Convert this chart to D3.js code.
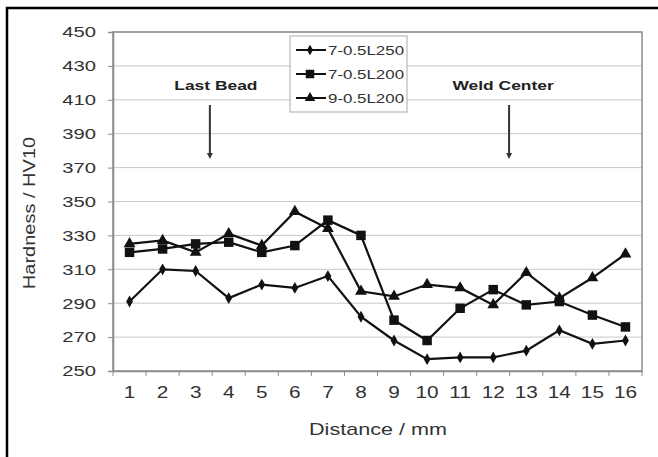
<!DOCTYPE html>
<html>
<head>
<meta charset="utf-8">
<script src="https://cdn.jsdelivr.net/npm/d3@7"></script>
<style>
  body { margin: 0; background: #fff; }
  svg { font-family: "Liberation Sans", Arial, sans-serif; }
</style>
</head>
<body>
<svg id="chart" width="658" height="457"></svg>
<script>
// data
var distances = [1, 2, 3, 4, 5, 6, 7, 8, 9, 10, 11, 12, 13, 14, 15, 16];
var seriesNames = ["7-0.5L250", "7-0.5L200", "9-0.5L200"];
var s250 = [291, 310, 309, 293, 301, 299, 306, 282, 268, 257, 258, 258, 262, 274, 266, 268];
var s200 = [320, 322, 325, 326, 320, 324, 339, 330, 280, 268, 287, 298, 289, 291, 283, 276];
var s9200 = [325, 327, 320, 331, 324, 344, 334, 297, 294, 301, 299, 289, 308, 293, 305, 319];
var yTicks = [250, 270, 290, 310, 330, 350, 370, 390, 410, 430, 450];
var notes = [{label: "Last Bead", at: 3.43, dx: 6}, {label: "Weld Center", at: 12.48, dx: -6}];

var svg = d3.select("#chart");
var pLeft = 113, pRight = 642, pTop = 32, pBottom = 371;

// the scan's lettering is wide, so stretch text sideways
function stretch(sel, k) {
  sel.each(function() {
    var t = d3.select(this);
    var tx = +t.attr("x") || 0, ty = +t.attr("y") || 0;
    t.attr("x", 0).attr("y", 0)
      .attr("transform", "translate(" + tx + "," + ty + ") scale(" + k + ",1)");
  });
}

// outer frame (only top and left edges show)
svg.append("path").attr("d", "M7,457V8H658").attr("fill", "none")
  .attr("stroke", "#000").attr("stroke-width", 2.5);

var x = d3.scaleBand().domain(distances).range([pLeft, pRight]);
var y = d3.scaleLinear().domain([250, 450]).range([pBottom, pTop]);

// grid
svg.append("g").selectAll("line").data(yTicks.slice(1)).enter().append("line")
  .attr("x1", pLeft).attr("x2", pRight)
  .attr("y1", function(d) { return y(d); }).attr("y2", function(d) { return y(d); })
  .attr("stroke", "#c8c8c8").attr("stroke-width", 1);

svg.append("rect").attr("x", pLeft).attr("y", pTop)
  .attr("width", pRight - pLeft).attr("height", pBottom - pTop)
  .attr("fill", "none").attr("stroke", "#8c8c8c").attr("stroke-width", 1.5);

// y axis
var yAxis = svg.append("g").attr("transform", "translate(" + pLeft + ",0)")
  .call(d3.axisLeft(y).tickValues(yTicks).tickSize(5).tickPadding(12));
yAxis.select(".domain").attr("stroke", "#8c8c8c").attr("stroke-width", 1.5);
yAxis.selectAll(".tick line").attr("stroke", "#8c8c8c");
yAxis.selectAll("text").attr("font-size", 15).attr("fill", "#333")
  .attr("font-family", "Liberation Sans, Arial, sans-serif");
stretch(yAxis.selectAll("text"), 1.35);

// x axis, ticks between categories
var xAxis = svg.append("g").attr("transform", "translate(0," + pBottom + ")")
  .call(d3.axisBottom(x).tickSize(0).tickPadding(16));
xAxis.select(".domain").attr("stroke", "#8c8c8c").attr("stroke-width", 1.5);
xAxis.selectAll("text").attr("font-size", 16).attr("fill", "#333")
  .attr("font-family", "Liberation Sans, Arial, sans-serif");
stretch(xAxis.selectAll("text"), 1.3);
svg.append("g").selectAll("line").data(distances.concat([17])).enter().append("line")
  .attr("x1", function(d, i) { return pLeft + i * x.bandwidth(); })
  .attr("x2", function(d, i) { return pLeft + i * x.bandwidth(); })
  .attr("y1", pBottom).attr("y2", pBottom + 5)
  .attr("stroke", "#8c8c8c");

// axis titles
var xt = svg.append("text").attr("x", 378).attr("y", 435)
  .attr("text-anchor", "middle").attr("font-size", 16).attr("fill", "#333")
  .text("Distance / mm");
stretch(xt, 1.35);
svg.append("text")
  .attr("transform", "translate(35,213) rotate(-90) scale(1.25,1)")
  .attr("text-anchor", "middle").attr("font-size", 16).attr("fill", "#333")
  .text("Hardness / HV10");

// series
var series = [
  {name: seriesNames[0], values: s250, shape: d3.symbolDiamond, size: 40},
  {name: seriesNames[1], values: s200, shape: d3.symbolSquare, size: 90},
  {name: seriesNames[2], values: s9200, shape: d3.symbolTriangle, size: 60}
];
var cx = function(i) { return x(distances[i]) + x.bandwidth() / 2; };
var line = d3.line().x(function(d, i) { return cx(i); }).y(function(d) { return y(d); });

series.forEach(function(s) {
  svg.append("path").datum(s.values).attr("d", line)
    .attr("fill", "none").attr("stroke", "#111").attr("stroke-width", 2.2);
  svg.append("g").selectAll("path").data(s.values).enter().append("path")
    .attr("d", d3.symbol().type(s.shape).size(s.size))
    .attr("transform", function(d, i) { return "translate(" + cx(i) + "," + y(d) + ")"; })
    .attr("fill", "#111");
});

// annotations
notes.forEach(function(n) {
  var ax = pLeft + (n.at - 0.5) * x.bandwidth();
  var nt = svg.append("text").attr("x", ax + n.dx).attr("y", 90)
    .attr("text-anchor", "middle").attr("font-size", 12).attr("font-weight", "bold")
    .attr("fill", "#222").text(n.label);
  stretch(nt, 1.45);
  svg.append("line").attr("x1", ax).attr("x2", ax).attr("y1", 105).attr("y2", 155)
    .attr("stroke", "#333").attr("stroke-width", 2);
  svg.append("path").attr("d", "M" + (ax - 3) + ",153L" + (ax + 3) + ",153L" + ax + ",159Z")
    .attr("fill", "#333");
});

// legend
var lg = svg.append("g").attr("transform", "translate(290,36)");
lg.append("rect").attr("width", 117).attr("height", 76)
  .attr("fill", "#fff").attr("stroke", "#aaa");
series.forEach(function(s, i) {
  var yy = 14 + i * 24;
  lg.append("line").attr("x1", 6).attr("x2", 36).attr("y1", yy).attr("y2", yy)
    .attr("stroke", "#111").attr("stroke-width", 2);
  lg.append("path").attr("d", d3.symbol().type(s.shape).size(s.size * 0.8))
    .attr("transform", "translate(20," + yy + ")").attr("fill", "#111");
  var lt = lg.append("text").attr("x", 38).attr("y", yy + 5).attr("font-size", 13)
    .attr("fill", "#333").text(s.name);
  stretch(lt, 1.3);
});
</script>
</body>
</html>
